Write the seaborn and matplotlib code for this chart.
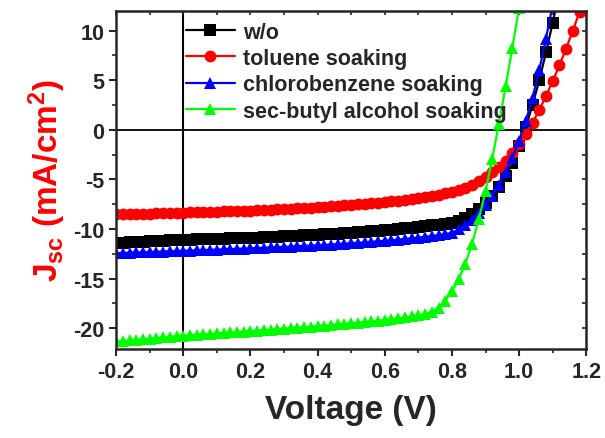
import numpy as np
import matplotlib
matplotlib.use("Agg")
import matplotlib.pyplot as plt
from matplotlib.ticker import MultipleLocator
import seaborn as sns

# J-V sweep, 0.02 V steps
voltage = [-0.20, -0.18, -0.16, -0.14, -0.12, -0.10, -0.08, -0.06, -0.04, -0.02,
           0.00, 0.02, 0.04, 0.06, 0.08, 0.10, 0.12, 0.14, 0.16, 0.18,
           0.20, 0.22, 0.24, 0.26, 0.28, 0.30, 0.32, 0.34, 0.36, 0.38,
           0.40, 0.42, 0.44, 0.46, 0.48, 0.50, 0.52, 0.54, 0.56, 0.58,
           0.60, 0.62, 0.64, 0.66, 0.68, 0.70, 0.72, 0.74, 0.76, 0.78,
           0.80, 0.82, 0.84, 0.86, 0.88, 0.90, 0.92, 0.94, 0.96, 0.98,
           1.00, 1.02, 1.04, 1.06, 1.08, 1.10, 1.12, 1.14, 1.16, 1.18, 1.20]

j_wo = [-11.40, -11.37, -11.34, -11.31, -11.28, -11.25, -11.22, -11.19, -11.16, -11.13,
        -11.10, -11.08, -11.06, -11.04, -11.02, -11.00, -10.98, -10.96, -10.94, -10.92,
        -10.90, -10.87, -10.84, -10.81, -10.78, -10.75, -10.72, -10.69, -10.66, -10.63,
        -10.60, -10.56, -10.52, -10.48, -10.44, -10.40, -10.35, -10.30, -10.25, -10.18,
        -10.12, -10.06, -10.00, -9.93, -9.86, -9.79, -9.72, -9.65, -9.58, -9.50,
        -9.40, -9.20, -8.90, -8.50, -8.00, -7.40, -6.70, -5.80, -4.70, -3.30,
        -1.60, 0.30, 2.50, 5.00, 7.80, 10.80, 14.00]

j_toluene = [-8.50, -8.49, -8.48, -8.47, -8.46, -8.45, -8.43, -8.41, -8.39, -8.37,
             -8.35, -8.33, -8.31, -8.29, -8.27, -8.25, -8.23, -8.21, -8.19, -8.17,
             -8.15, -8.12, -8.09, -8.06, -8.03, -8.00, -7.96, -7.92, -7.88, -7.84,
             -7.80, -7.76, -7.72, -7.68, -7.63, -7.58, -7.53, -7.48, -7.42, -7.36,
             -7.30, -7.23, -7.16, -7.08, -7.00, -6.90, -6.80, -6.68, -6.55, -6.42,
             -6.25, -6.05, -5.85, -5.55, -5.20, -4.80, -4.30, -3.75, -3.10, -2.30,
             -1.40, -0.40, 0.70, 2.00, 3.40, 4.90, 6.50, 8.20, 10.00, 11.90, 13.90]

j_chloro = [-12.45, -12.42, -12.40, -12.37, -12.35, -12.33, -12.30, -12.28, -12.25, -12.23,
            -12.20, -12.18, -12.16, -12.13, -12.11, -12.08, -12.06, -12.03, -12.01, -11.98,
            -11.96, -11.93, -11.90, -11.87, -11.84, -11.81, -11.78, -11.75, -11.72, -11.68,
            -11.65, -11.61, -11.57, -11.53, -11.49, -11.45, -11.40, -11.35, -11.30, -11.25,
            -11.20, -11.14, -11.08, -11.02, -10.95, -10.88, -10.80, -10.72, -10.63, -10.52,
            -10.40, -10.05, -9.65, -9.10, -8.40, -7.60, -6.65, -5.60, -4.30, -2.80,
            -1.10, 0.90, 3.20, 6.00, 9.20, 12.60]

j_butyl = [-21.35, -21.30, -21.24, -21.18, -21.12, -21.06, -21.00, -20.94, -20.88, -20.82,
           -20.76, -20.72, -20.67, -20.63, -20.58, -20.54, -20.49, -20.44, -20.40, -20.35,
           -20.30, -20.25, -20.20, -20.15, -20.10, -20.05, -20.00, -19.95, -19.90, -19.85,
           -19.80, -19.75, -19.69, -19.63, -19.57, -19.51, -19.45, -19.39, -19.32, -19.25,
           -19.18, -19.10, -19.02, -18.93, -18.83, -18.72, -18.58, -18.35, -17.95, -17.25,
           -16.30, -15.10, -13.50, -11.50, -9.00, -6.20, -2.90, 0.60, 4.40, 8.30, 12.30]

labels = ["w/o", "toluene soaking", "chlorobenzene soaking", "sec-butyl alcohol soaking"]
colors = ["#000000", "#FF0000", "#0000FF", "#00FF00"]
markers = ["s", "o", "^", "^"]
series = [j_wo, j_toluene, j_chloro, j_butyl]

sns.set_style("ticks")
plt.rcParams["font.family"] = ["Liberation Sans", "DejaVu Sans"]
plt.rcParams["font.weight"] = "bold"
plt.rcParams["axes.unicode_minus"] = False
plt.rcParams["mathtext.fontset"] = "custom"
plt.rcParams["mathtext.rm"] = "Liberation Sans:bold"
plt.rcParams["mathtext.bf"] = "Liberation Sans:bold"
plt.rcParams["mathtext.it"] = "Liberation Sans:bold"

fig = plt.figure(figsize=(6.05, 4.39), dpi=100)
ax = fig.add_axes([0.192, 0.203, 0.777, 0.770])

for j, lab, c, m in zip(series, labels, colors, markers):
    sns.lineplot(x=voltage[:len(j)], y=j, ax=ax, color=c, marker=m, markersize=8.5,
                 markeredgewidth=0, linewidth=1.6, label=lab, sort=False)

ax.axhline(0, color="black", linewidth=1.3, zorder=0)
ax.axvline(0, color="black", linewidth=1.5, zorder=0)

ax.set_xlim(-0.2, 1.2)
ax.set_ylim(-22.1, 12)
ax.xaxis.set_major_locator(MultipleLocator(0.2))
ax.xaxis.set_minor_locator(MultipleLocator(0.1))
ax.yaxis.set_major_locator(MultipleLocator(5))
ax.yaxis.set_minor_locator(MultipleLocator(2.5))
ax.set_xticks([-0.2, 0.0, 0.2, 0.4, 0.6, 0.8, 1.0, 1.2])
ax.set_xticklabels(["-0.2", "0.0", "0.2", "0.4", "0.6", "0.8", "1.0", "1.2"])
ax.tick_params(which="major", direction="out", length=5, width=1.5, labelsize=15.5)
ax.tick_params(which="minor", direction="out", length=3, width=1.2)
for s in ax.spines.values():
    s.set_linewidth(1.8)

# mirrored inner ticks on top and right
top = ax.secondary_xaxis("top")
top.xaxis.set_major_locator(MultipleLocator(0.2))
top.xaxis.set_minor_locator(MultipleLocator(0.1))
top.tick_params(which="both", direction="in", length=3, width=1.2, labeltop=False)
right = ax.secondary_yaxis("right")
right.yaxis.set_major_locator(MultipleLocator(5))
right.yaxis.set_minor_locator(MultipleLocator(2.5))
right.tick_params(which="both", direction="in", length=3, width=1.2, labelright=False)

ax.set_xlabel("Voltage (V)", fontsize=24, fontweight="bold", labelpad=9)
ax.set_ylabel(r"J$_{\mathregular{sc}}$ (mA/cm$^{\mathregular{2}}$)", fontsize=24,
              fontweight="bold", color="#FF0000", labelpad=4)

leg = ax.legend(loc="upper left", bbox_to_anchor=(0.125, 1.0), frameon=False,
                fontsize=15.5, handlelength=2.3, handletextpad=0.35,
                labelspacing=0.25, borderaxespad=0.1)

fig.savefig("out.png", dpi=100)
